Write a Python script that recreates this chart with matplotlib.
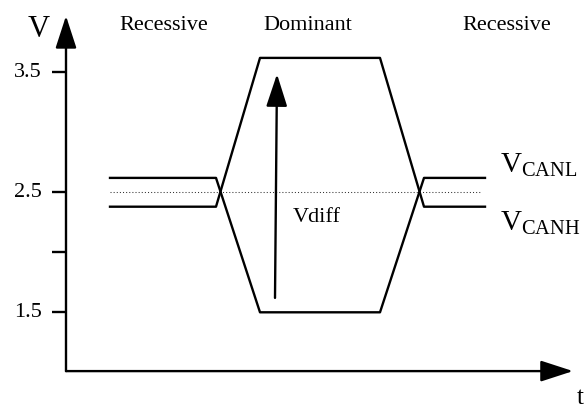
import matplotlib
matplotlib.use("Agg")
import matplotlib.pyplot as plt

plt.rcParams['font.family'] = ['Liberation Serif', 'DejaVu Serif']
plt.rcParams['mathtext.fontset'] = 'custom'
plt.rcParams['mathtext.rm'] = 'Liberation Serif'

# signal levels (V) against time (arbitrary units)
bus_t = [4.4, 15.0, 19.4, 31.4, 35.8, 41.9]
canh_v = [2.38, 2.38, 3.62, 3.62, 2.38, 2.38]
canl_v = [2.62, 2.62, 1.5, 1.5, 2.62, 2.62]
mid_v = 2.5
mid_t = [4.4, 41.5]

ytick_v = [3.5, 2.5, 2.0, 1.5]
ytick_labels = ["3.5", "2.5", "", "1.5"]

states = ["Recessive", "Dominant", "Recessive"]
state_t = [9.75, 24.2, 44.05]

vdiff_t = [20.9, 21.1]
vdiff_v = [1.62, 3.485]

fig = plt.figure(figsize=(5.87, 4.11), dpi=100)
ax = fig.add_axes([0, 0, 1, 1])
ax.set_xlim(-6.6, 52.1)
ax.set_ylim(0.6775, 4.1025)
ax.axis('off')

lw = 1.7
arrow = dict(arrowstyle='-|>,head_length=20,head_width=6.5', mutation_scale=1,
             lw=lw, color='black', shrinkA=0, shrinkB=0)

# axes with arrow heads
ax.annotate('', xy=(0, 3.97), xytext=(0, 1.01), arrowprops=arrow)
ax.annotate('', xy=(50.7, 1.01), xytext=(0, 1.01), arrowprops=arrow)

# ticks + labels
for v, lab in zip(ytick_v, ytick_labels):
    ax.plot([-1.4, 0], [v, v], color='black', lw=lw, solid_capstyle='butt')
    if lab:
        ax.text(-2.4, v, lab, ha='right', va='center', fontsize=16)

ax.text(-2.75, 3.86, "V", ha='center', va='center', fontsize=22)
ax.text(51.4, 0.79, "t", ha='center', va='center', fontsize=18)

# dotted 2.5 V reference
ax.plot(mid_t, [mid_v, mid_v], color='#333333', lw=0.75, linestyle=(0, (1, 2)))

# bus lines
ax.plot(bus_t, canh_v, color='black', lw=lw)
ax.plot(bus_t, canl_v, color='black', lw=lw)

# differential voltage arrow
ax.annotate('', xy=(vdiff_t[1], vdiff_v[1]), xytext=(vdiff_t[0], vdiff_v[0]), arrowprops=arrow)
ax.text(22.7, 2.286, "Vdiff", ha='left', va='center', fontsize=16)

for s, t in zip(states, state_t):
    ax.text(t, 3.894, s, ha='center', va='center', fontsize=16)

ax.text(43.4, 2.669, r"V$_{\mathrm{CANL}}$", ha='left', va='baseline', fontsize=21)
ax.text(43.4, 2.186, r"V$_{\mathrm{CANH}}$", ha='left', va='baseline', fontsize=21)

fig.savefig("out.png", dpi=100)
